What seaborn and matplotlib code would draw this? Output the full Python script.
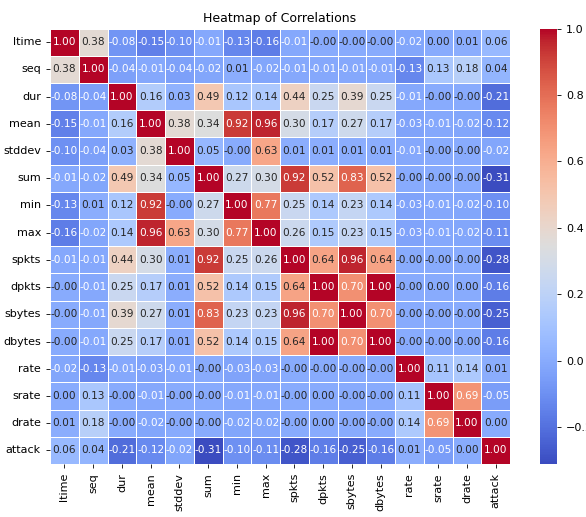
import matplotlib
matplotlib.use("Agg")
import matplotlib.pyplot as plt
import numpy as np
import pandas as pd
import seaborn as sns

features = ["ltime", "seq", "dur", "mean", "stddev", "sum", "min", "max",
            "spkts", "dpkts", "sbytes", "dbytes", "rate", "srate", "drate", "attack"]

# correlation rows (values shown as "-0.00" are tiny negatives)
ltime = [1.00, 0.38, -0.08, -0.15, -0.10, -0.01, -0.13, -0.16, -0.01, -0.001, -0.001, -0.001, -0.02, 0.001, 0.01, 0.06]
seq = [0.38, 1.00, -0.04, -0.01, -0.04, -0.02, 0.01, -0.02, -0.01, -0.01, -0.01, -0.01, -0.13, 0.13, 0.18, 0.04]
dur = [-0.08, -0.04, 1.00, 0.16, 0.03, 0.49, 0.12, 0.14, 0.44, 0.25, 0.39, 0.25, -0.01, -0.001, -0.001, -0.21]
mean = [-0.15, -0.01, 0.16, 1.00, 0.38, 0.34, 0.92, 0.96, 0.30, 0.17, 0.27, 0.17, -0.03, -0.01, -0.02, -0.12]
stddev = [-0.10, -0.04, 0.03, 0.38, 1.00, 0.05, -0.001, 0.63, 0.01, 0.01, 0.01, 0.01, -0.01, -0.001, -0.001, -0.02]
sum_ = [-0.01, -0.02, 0.49, 0.34, 0.05, 1.00, 0.27, 0.30, 0.92, 0.52, 0.83, 0.52, -0.001, -0.001, -0.001, -0.31]
min_ = [-0.13, 0.01, 0.12, 0.92, -0.001, 0.27, 1.00, 0.77, 0.25, 0.14, 0.23, 0.14, -0.03, -0.01, -0.02, -0.10]
max_ = [-0.16, -0.02, 0.14, 0.96, 0.63, 0.30, 0.77, 1.00, 0.26, 0.15, 0.23, 0.15, -0.03, -0.01, -0.02, -0.11]
spkts = [-0.01, -0.01, 0.44, 0.30, 0.01, 0.92, 0.25, 0.26, 1.00, 0.64, 0.96, 0.64, -0.001, -0.001, -0.001, -0.28]
dpkts = [-0.001, -0.01, 0.25, 0.17, 0.01, 0.52, 0.14, 0.15, 0.64, 1.00, 0.70, 1.00, -0.001, 0.001, 0.001, -0.16]
sbytes = [-0.001, -0.01, 0.39, 0.27, 0.01, 0.83, 0.23, 0.23, 0.96, 0.70, 1.00, 0.70, -0.001, -0.001, -0.001, -0.25]
dbytes = [-0.001, -0.01, 0.25, 0.17, 0.01, 0.52, 0.14, 0.15, 0.64, 1.00, 0.70, 1.00, -0.001, -0.001, -0.001, -0.16]
rate = [-0.02, -0.13, -0.01, -0.03, -0.01, -0.001, -0.03, -0.03, -0.001, -0.001, -0.001, -0.001, 1.00, 0.11, 0.14, 0.01]
srate = [0.001, 0.13, -0.001, -0.01, -0.001, -0.001, -0.01, -0.01, -0.001, 0.001, -0.001, -0.001, 0.11, 1.00, 0.69, -0.05]
drate = [0.01, 0.18, -0.001, -0.02, -0.001, -0.001, -0.02, -0.02, -0.001, 0.001, -0.001, -0.001, 0.14, 0.69, 1.00, 0.001]
attack = [0.06, 0.04, -0.21, -0.12, -0.02, -0.31, -0.10, -0.11, -0.28, -0.16, -0.25, -0.16, 0.01, -0.05, 0.001, 1.00]

rows = [ltime, seq, dur, mean, stddev, sum_, min_, max_, spkts, dpkts,
        sbytes, dbytes, rate, srate, drate, attack]
corr = pd.DataFrame(rows, index=features, columns=features)

fig = plt.figure(figsize=(5.86, 5.17), dpi=100)
ax = fig.add_axes([50 / 586, 1 - 464 / 517, 460 / 586, 435.5 / 517])
cax = fig.add_axes([540 / 586, 1 - 464 / 517, 17 / 586, 435.5 / 517])

sns.heatmap(corr, ax=ax, cbar_ax=cax, cmap="coolwarm", annot=True, fmt=".2f",
            linewidths=0.5, linecolor="white", annot_kws={"size": 7.6})

# light labels on saturated cells, dark labels on pale ones
vals = corr.to_numpy().ravel()
for txt, v in zip(ax.texts, vals):
    txt.set_color("white" if (v < -0.005 or v > 0.665) else "#262626")

ax.set_title("Heatmap of Correlations", fontsize=9, pad=5)
ax.tick_params(axis="both", labelsize=8, length=3, width=0.6)
ax.set_xticklabels(features, rotation=90)
ax.set_yticklabels(features, rotation=0)
cax.tick_params(labelsize=8, length=3, width=0.6)
for s in cax.spines.values():
    s.set_visible(False)

fig.savefig("out.png", dpi=100)
